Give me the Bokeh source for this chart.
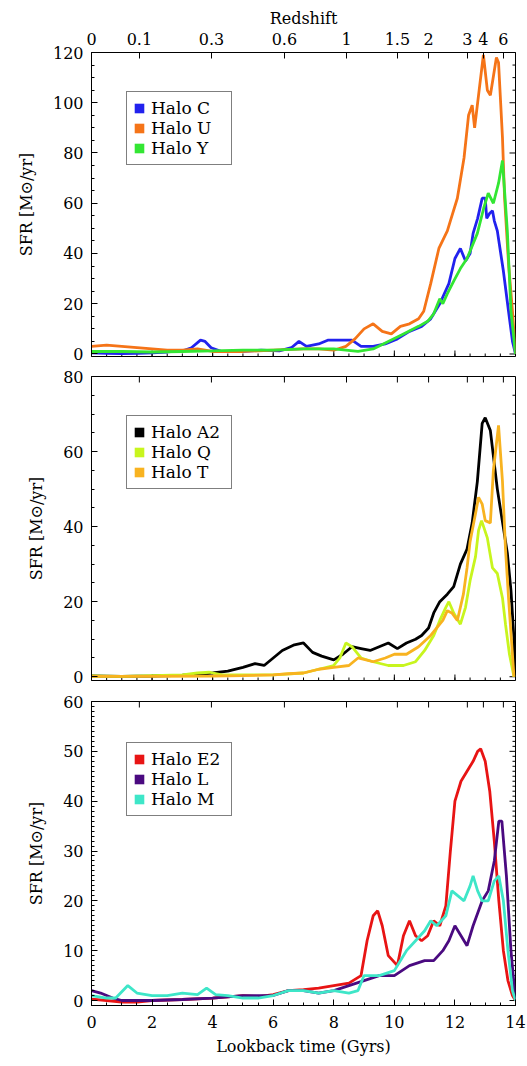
import math
from bokeh.plotting import figure
from bokeh.models import LinearAxis, FixedTicker, Legend, LegendItem, Range1d
from bokeh.layouts import column
from bokeh.embed import file_html
from bokeh.resources import INLINE

FONT = "DejaVu Serif"

# ---------------- data ----------------
# top axis: redshift labels at lookback times (Gyr)
z_labels = ["0", "0.1", "0.3", "0.6", "1", "1.5", "2", "3", "4", "6"]
z_lookback = [0.0, 1.58, 3.96, 6.37, 8.42, 10.1, 11.13, 12.41, 12.94, 13.6]

# Panel 1
t_C = [0, 0.5, 1.0, 1.5, 2.0, 2.5, 3.0, 3.3, 3.6, 3.75, 3.95, 4.3, 5.0, 5.6, 6.2, 6.6, 6.85, 7.1, 7.5, 7.8,
       8.2, 8.6, 8.9, 9.3, 9.7, 10.1, 10.5, 10.9, 11.2, 11.5, 11.8, 12.0, 12.18, 12.35, 12.5, 12.6, 12.75,
       12.9, 13.0, 13.05, 13.15, 13.24, 13.3, 13.4, 13.6, 13.77, 13.9, 14.0]
sfr_C = [0.5, 0.3, 0.2, 0.3, 0.5, 0.8, 1.2, 2.5, 5.5, 5, 2.5, 1, 1, 1.5, 1.2, 2.5, 5, 3, 4, 5.5,
         5.5, 5.5, 3, 3, 4, 6, 9, 11, 14, 20, 28, 38, 42, 37, 40, 48, 54,
         62, 62, 54, 56, 57, 53, 49, 33, 17, 5, 0]
t_U = [0, 0.5, 1.0, 1.5, 2.0, 2.5, 3.0, 3.5, 4.0, 5.0, 6.0, 7.0, 7.5, 8.0, 8.4, 8.7, 9.0, 9.3, 9.6, 9.9,
       10.2, 10.5, 10.8, 10.97, 11.2, 11.47, 11.75, 11.85, 12.08, 12.3, 12.45, 12.57, 12.65, 12.8, 12.94,
       13.07, 13.17, 13.37, 13.44, 13.57, 13.64, 13.77, 13.9, 14.0]
sfr_U = [3, 3.5, 3, 2.5, 2, 1.5, 1.5, 2, 1, 1, 1.5, 2, 2, 1.5, 3, 6, 10, 12, 9, 8,
         11, 12, 14, 17, 28, 42, 49, 53, 62, 78, 95, 99, 90, 105, 119,
         105, 103, 118, 116, 86, 62, 36, 17, 0]
t_Y = [0, 1, 2, 3, 4, 5, 6, 7, 8, 8.8, 9.3, 9.8, 10.3, 10.8, 11.1, 11.3, 11.5, 11.6, 11.75, 11.96,
       12.18, 12.4, 12.74, 12.95, 13.1, 13.27, 13.44, 13.57, 13.73, 13.85, 14.0]
sfr_Y = [1, 1, 0.8, 1, 1.2, 1.5, 1.5, 2, 2, 1, 2, 5, 8, 11, 13, 16, 22, 20, 24, 29,
         34, 38, 48, 58, 64, 60, 68, 77, 49, 17, 0]

# Panel 2
t_A2 = [0, 1, 2, 3, 3.5, 4.0, 4.5, 5.0, 5.4, 5.7, 6.0, 6.3, 6.7, 7.0, 7.3, 7.6, 8.0, 8.3, 8.6, 8.9,
        9.2, 9.5, 9.8, 10.1, 10.4, 10.7, 10.9, 11.13, 11.3, 11.5, 11.75, 11.96, 12.18, 12.4, 12.57,
        12.74, 12.9, 13.0, 13.17, 13.4, 13.73, 13.85, 13.95, 14.0]
sfr_A2 = [0.2, 0.1, 0.2, 0.4, 0.6, 1, 1.5, 2.5, 3.5, 3, 5, 7, 8.5, 9, 6.5, 5.5, 4.5, 6, 8, 7.5,
          7, 8, 9, 7.5, 9, 10, 11, 13, 17, 20, 22, 24, 30, 34, 41,
          52, 67.5, 69, 65.6, 50, 33, 23, 10, 0]
t_Q = [0, 1, 2, 3, 3.5, 3.9, 4.3, 5, 6, 7, 7.5, 8.0, 8.2, 8.4, 8.6, 8.9, 9.3, 9.8, 10.3, 10.7, 11.0,
       11.3, 11.5, 11.7, 11.8, 11.96, 12.18, 12.35, 12.5, 12.68, 12.78, 12.88, 13.07, 13.24, 13.4,
       13.57, 13.67, 13.8, 13.95]
sfr_Q = [0.2, 0.1, 0.3, 0.5, 1, 1.2, 0.5, 0.5, 0.5, 1, 2, 3, 5, 9, 8, 5, 4, 3, 3, 4, 7,
         11, 15, 18.5, 20, 17, 14, 18.5, 25.6, 32, 39, 41.6, 37, 29, 27.5,
         21, 14, 6, 0]
t_T = [0, 2, 4, 5, 6, 6.5, 7, 7.5, 8.0, 8.5, 8.8, 9.3, 9.7, 10.0, 10.4, 10.8, 11.2, 11.6, 11.75,
       11.9, 12.08, 12.28, 12.4, 12.5, 12.68, 12.78, 12.9, 13.0, 13.17, 13.27, 13.44, 13.57, 13.67,
       13.77, 13.95]
sfr_T = [0.1, 0.1, 0.2, 0.3, 0.5, 0.8, 1, 2, 2.5, 3, 5, 4, 5, 6, 6, 8, 11, 15, 17.6,
         17, 15, 22, 29, 36, 43.5, 47.8, 46, 41.6, 41, 55, 67, 52, 34,
         21, 0]

# Panel 3
t_E2 = [0, 0.5, 1.0, 1.5, 2, 3, 4, 5, 5.5, 6, 6.5, 7, 7.5, 8, 8.5, 8.9, 9.1, 9.3, 9.45, 9.6, 9.8,
        10.1, 10.3, 10.5, 10.7, 10.9, 11.1, 11.3, 11.5, 11.7, 11.85, 12.0, 12.2, 12.4, 12.6, 12.75,
        12.85, 13.0, 13.15, 13.3, 13.45, 13.6, 13.75, 13.9, 14.0]
sfr_E2 = [0.3, 0, -0.3, -0.3, 0, 0.2, 0.5, 1, 0.8, 1.2, 2, 2.2, 2.5, 3, 3.5, 5, 12, 17, 18, 15, 9,
          7, 13, 16, 13, 12, 13, 16, 15, 19, 30, 40, 44, 46, 48, 50,
          50.5, 48, 42, 32, 20, 10, 4, 1, 0]
t_L = [0, 0.3, 0.7, 1.0, 2, 3, 4, 5, 6, 6.5, 7, 7.5, 8, 8.5, 9, 9.5, 10, 10.5, 11, 11.3, 11.6,
       11.8, 12.0, 12.2, 12.4, 12.6, 12.9, 13.1, 13.3, 13.45, 13.55, 13.7, 13.85, 14.0]
sfr_L = [2, 1.5, 0.5, 0, 0, 0.2, 0.5, 1, 1, 2, 2, 1.5, 2, 3, 4, 5, 5, 7, 8, 8, 10,
         12, 15, 13, 11, 15, 20, 22, 28, 36, 36, 25, 10, 0]
t_M = [0, 0.5, 0.8, 1.2, 1.5, 2, 2.5, 3, 3.5, 3.8, 4.1, 4.5, 5, 5.5, 6, 6.5, 7, 7.5, 8, 8.5, 8.8,
       9.0, 9.5, 10, 10.4, 10.7, 11, 11.2, 11.4, 11.7, 11.9, 12.1, 12.3, 12.5, 12.6, 12.75, 12.9,
       13.1, 13.3, 13.45, 13.6, 13.75, 13.9, 14.0]
sfr_M = [1, 0.5, 0.5, 3, 1.5, 1, 1, 1.5, 1.2, 2.5, 1.2, 1, 0.5, 0.5, 1, 2, 2, 1.5, 2, 1.5, 2,
         5, 5, 6, 10, 12, 14, 16, 15, 17, 22, 21, 20, 23, 25, 22, 20,
         20, 24, 25, 20, 10, 2, 0]

x_ticks = [0, 2, 4, 6, 8, 10, 12, 14]
x_minor = [i * 0.5 for i in range(29)]
X_MIN, X_MAX, Y_MIN = 0, 14, -1

panels = [
    dict(height=366, top=52, bottom=10, ymax=120, yticks=[0, 20, 40, 60, 80, 100, 120], ystep=5,
         series=[("Halo C", t_C, sfr_C, "#2222ee"), ("Halo U", t_U, sfr_U, "#f57418"),
                 ("Halo Y", t_Y, sfr_Y, "#33e633")],
         first=True, last=False, leg=(35, 191)),
    dict(height=324, top=10, bottom=10, ymax=80, yticks=[0, 20, 40, 60, 80], ystep=5,
         series=[("Halo A2", t_A2, sfr_A2, "#000000"), ("Halo Q", t_Q, sfr_Q, "#c8f51e"),
                 ("Halo T", t_T, sfr_T, "#f8b320")],
         first=False, last=False, leg=(35, 191)),
    dict(height=376, top=11, bottom=61, ymax=60, yticks=[0, 10, 20, 30, 40, 50, 60], ystep=1,
         series=[("Halo E2", t_E2, sfr_E2, "#e81414"), ("Halo L", t_L, sfr_L, "#4a0a80"),
                 ("Halo M", t_M, sfr_M, "#3ee6c8")],
         first=False, last=True, leg=(35, 189)),
]

MAJ, MIN = 6, 3


def style(ax):
    ax.major_tick_in = MAJ
    ax.major_tick_out = 0
    ax.minor_tick_in = MIN
    ax.minor_tick_out = 0
    ax.axis_line_color = "black"
    ax.major_tick_line_color = "black"
    ax.minor_tick_line_color = "black"
    ax.major_label_text_font = FONT
    ax.major_label_text_color = "black"
    ax.major_label_text_font_size = "16px"
    ax.axis_label_text_font = FONT
    ax.axis_label_text_font_style = "normal"
    ax.axis_label_text_font_size = "16px"
    ax.axis_label_text_color = "black"


def ticks_on(p, xs, ys, length, angle):
    p.ray(x=xs, y=ys, length=length, angle=angle, length_units="screen",
          line_color="black", line_width=1)


figs = []
for pn in panels:
    ymax = pn["ymax"]
    p = figure(width=527, height=pn["height"], x_range=Range1d(X_MIN, X_MAX), y_range=Range1d(Y_MIN, ymax),
               output_backend="svg", toolbar_location=None,
               x_axis_location=None, y_axis_location=None,
               min_border_left=91, min_border_right=12,
               min_border_top=pn["top"], min_border_bottom=pn["bottom"])
    p.grid.visible = False
    p.outline_line_color = "black"
    p.outline_line_width = 1
    p.background_fill_color = "white"
    p.border_fill_color = "white"

    ymin_ticks = [v for v in range(0, ymax + 1, pn["ystep"]) if v not in pn["yticks"]]

    left = LinearAxis(ticker=FixedTicker(ticks=pn["yticks"], minor_ticks=ymin_ticks),
                      axis_label="SFR [M\u2299/yr]")
    style(left)
    left.major_label_standoff = 8
    left.axis_label_standoff = 14
    p.add_layout(left, "left")

    # mirrored ticks on the right edge
    ticks_on(p, [X_MAX] * len(pn["yticks"]), pn["yticks"], MAJ, math.pi)
    ticks_on(p, [X_MAX] * len(ymin_ticks), ymin_ticks, MIN, math.pi)

    # bottom
    if pn["last"]:
        below = LinearAxis(ticker=FixedTicker(ticks=x_ticks, minor_ticks=x_minor),
                           axis_label="Lookback time (Gyrs)")
        style(below)
        below.major_label_standoff = 10
        below.axis_label_standoff = 6
        p.add_layout(below, "below")
    else:
        ticks_on(p, x_ticks, [Y_MIN] * len(x_ticks), MAJ, math.pi / 2)
        ticks_on(p, x_minor, [Y_MIN] * len(x_minor), MIN, math.pi / 2)

    # top (redshift)
    if pn["first"]:
        above = LinearAxis(ticker=FixedTicker(ticks=z_lookback, minor_ticks=[]),
                           major_label_overrides={t: s for t, s in zip(z_lookback, z_labels)},
                           axis_label="Redshift")
        style(above)
        above.major_label_standoff = 8
        above.axis_label_standoff = 2
        p.add_layout(above, "above")
    else:
        ticks_on(p, z_lookback, [ymax] * len(z_lookback), MAJ, -math.pi / 2)

    items = []
    for name, t, s, c in pn["series"]:
        p.line(t, s, line_color=c, line_width=2.8)
    for name, t, s, c in pn["series"]:
        # zero-size proxy so the legend shows a filled square swatch
        r = p.quad(left=[t[0]], right=[t[0]], top=[s[0]], bottom=[s[0]], fill_color=c, line_color=None)
        items.append(LegendItem(label=name, renderers=[r]))
    leg = Legend(items=items, location=pn["leg"], padding=6, spacing=0, margin=0,
                 glyph_width=12, glyph_height=12, label_height=17, label_width=74,
                 label_standoff=6, label_text_font=FONT, label_text_font_size="17px",
                 label_text_color="black", border_line_color="black", border_line_width=1,
                 background_fill_color="white", background_fill_alpha=1.0)
    p.add_layout(leg)
    figs.append(p)

layout = column(*figs, spacing=0)
open("out.html", "w").write(file_html(layout, INLINE))
